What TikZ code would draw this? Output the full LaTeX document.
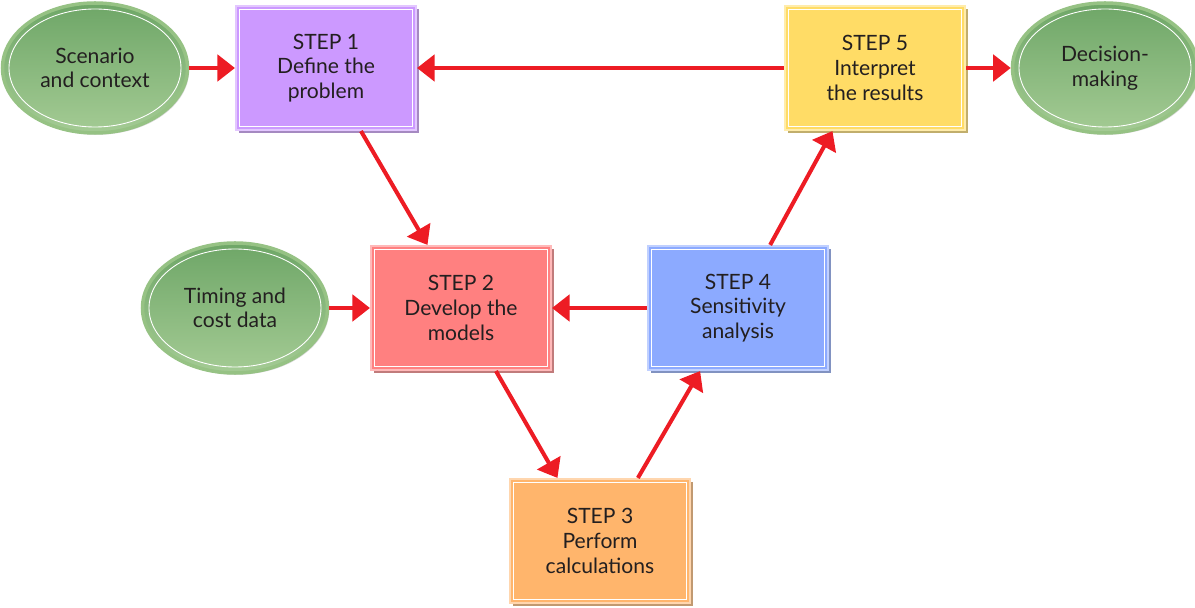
\documentclass[tikz,border=0pt]{standalone}
\usepackage{fontspec}
\setmainfont{Lato}
\usetikzlibrary{arrows.meta,positioning,shapes.geometric,shadows}

\definecolor{flowred}{RGB}{237,28,36}
\definecolor{textgray}{RGB}{35,31,32}
\definecolor{purplebox}{RGB}{204,153,255}
\definecolor{redbox}{RGB}{255,128,128}
\definecolor{orangebox}{RGB}{255,181,108}
\definecolor{bluebox}{RGB}{140,170,255}
\definecolor{yellowbox}{RGB}{255,220,102}
\definecolor{greendark}{RGB}{110,166,103}
\definecolor{greenlight}{RGB}{164,203,148}
\definecolor{greenrim}{RGB}{150,194,132}

\begin{document}
\begin{tikzpicture}[
                        flow/.style={-{Triangle[length=10pt,width=15pt]},
                                     draw=flowred, line width=2.3pt},
                        stepbox/.style={rectangle, minimum width=3.6cm, minimum height=2.48cm,
                                        fill=#1, draw=#1!55!white, line width=1.2pt,
                                        drop shadow={shadow xshift=1.5pt, shadow yshift=-1.5pt,
                                                     fill=#1!70!black, opacity=.8},
                                        path picture={\draw[white, line width=0.5pt]
                                            ([shift={(2pt,-2pt)}]path picture bounding box.north west)
                                            rectangle
                                            ([shift={(-2pt,2pt)}]path picture bounding box.south east);}},
                        inputell/.style={ellipse, minimum width=3.7cm, minimum height=2.6cm,
                                         top color=greendark, bottom color=greenlight,
                                         draw=greenrim, line width=2pt,
                                         drop shadow={shadow xshift=1pt, shadow yshift=-1pt, opacity=.3},
                                         path picture={\draw[white, line width=0.5pt]
                                             (path picture bounding box.center)
                                             ellipse [x radius=1.72cm, y radius=1.18cm];}},
                        every node/.style={font=\fontsize{12}{14}\selectfont, text=textgray, align=center},
                        on grid
                    ]
                    \useasboundingbox (0,0) rectangle (23.9,-12.16);

                    % steps
                    \node[stepbox=purplebox] (s1) at (6.52,-1.36)          {STEP 1\\Define the\\problem};
                    \node[stepbox=yellowbox] (s5) [right=10.98cm of s1]   {STEP 5\\Interpret\\the results};
                    \node[stepbox=redbox]    (s2) [below right=4.8cm and 2.7cm of s1] {STEP 2\\Develop the\\models};
                    \node[stepbox=bluebox]   (s4) [right=5.54cm of s2]    {STEP 4\\Sensitivity\\analysis};
                    \node[stepbox=orangebox] (s3) [below right=4.66cm and 2.78cm of s2] {STEP 3\\Perform\\calculations};

                    % inputs and output
                    \node[inputell] (scen) [left=4.62cm of s1]  {Scenario\\and context};
                    \node[inputell] (dec)  [right=4.6cm of s5]  {Decision-\\making};
                    \node[inputell] (tim)  [left=4.52cm of s2]  {Timing and\\cost data};

                    \draw[flow] (scen)   -- (s1);
                    \draw[flow] (s5)     -- (s1);
                    \draw[flow] (s5)     -- (dec);
                    \draw[flow] (s1.-61) -- (s2.118);
                    \draw[flow] (tim)    -- (s2);
                    \draw[flow] (s4)     -- (s2);
                    \draw[flow] (s2.-61) -- (s3.124);
                    \draw[flow] (s3.59)  -- (s4.239);
                    \draw[flow] (s4.63)  -- (s5.236);

                \end{tikzpicture}
\end{document}
